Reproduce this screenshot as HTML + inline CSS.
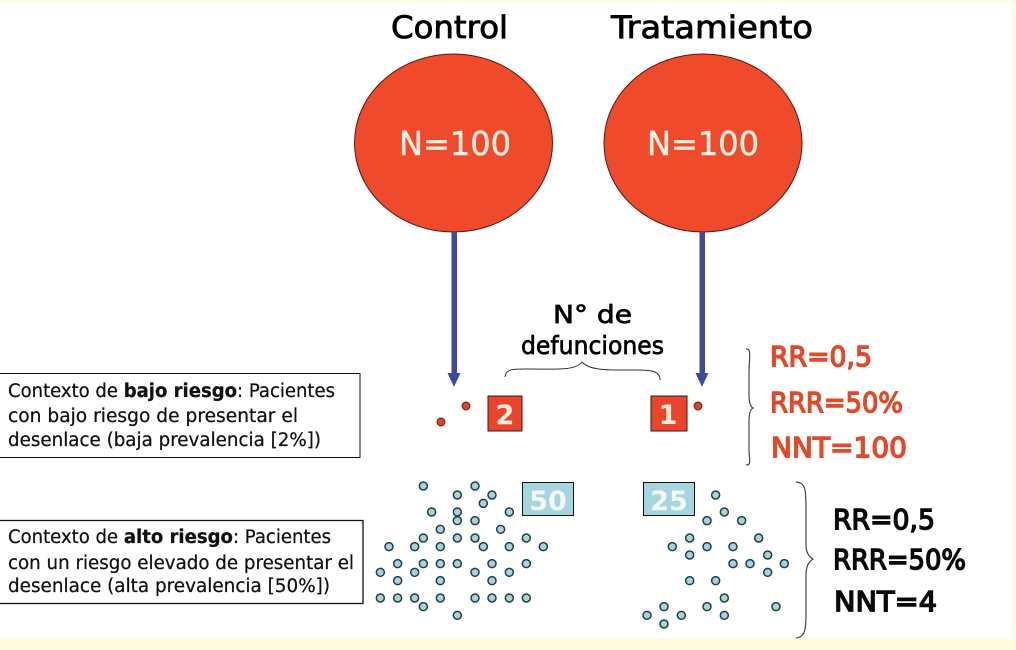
<!DOCTYPE html>
<html><head><meta charset="utf-8"><style>html,body{margin:0;padding:0;background:#fff}svg{display:block}text{font-family:"DejaVu Sans","Liberation Sans",sans-serif}</style></head><body>
<svg width="1016" height="650" viewBox="0 0 1016 650" xmlns="http://www.w3.org/2000/svg">
<rect width="1016" height="650" fill="#fff"/>
<rect x="0" y="639" width="1016" height="11" fill="#fffbdc"/>
<rect x="0" y="0" width="1016" height="1.500" fill="#fffbdc"/>
<rect x="1012" y="0" width="4" height="650" fill="#fffbdc"/>
<g stroke="#000" stroke-width=".8" fill="#000">
<text x="391" y="38" font-size="31" textLength="117" lengthAdjust="spacingAndGlyphs">Control</text>
<text x="611" y="38" font-size="31" textLength="202" lengthAdjust="spacingAndGlyphs">Tratamiento</text>
</g>
<ellipse cx="453.500" cy="143" rx="99" ry="89" fill="#ef4a2b" stroke="#5a1a10" stroke-width="1"/>
<ellipse cx="703" cy="143" rx="99" ry="89" fill="#ef4a2b" stroke="#5a1a10" stroke-width="1"/>
<g fill="#fdeee0" stroke="#fdeee0" stroke-width=".5">
<text x="399" y="155" font-size="33" textLength="112" lengthAdjust="spacingAndGlyphs">N=100</text>
<text x="647" y="155" font-size="33" textLength="112" lengthAdjust="spacingAndGlyphs">N=100</text>
</g>
<rect x="451.500" y="232" width="5.500" height="143" fill="#3f4a9e"/>
<path d="M447.500 373H460.500L454 387Z" fill="#3f4a9e"/>
<rect x="699.500" y="232" width="5.500" height="143" fill="#3f4a9e"/>
<path d="M695.500 373H708.500L702 387Z" fill="#3f4a9e"/>
<g stroke="#000" stroke-width=".7" fill="#000">
<text x="553" y="323" font-size="25" textLength="79" lengthAdjust="spacingAndGlyphs">N° de</text>
<text x="521" y="354" font-size="25" textLength="143" lengthAdjust="spacingAndGlyphs">defunciones</text>
</g>
<path d="M505 377C506 368 515 369 530 369C555 369 575 371 582 362C590 371 610 370 635 370C652 370 660 371 660 380" fill="none" stroke="#333" stroke-width="1"/>
<path d="M746 349C752 349 749 356 749 375V394C749 404 751 407 753 408C751 409 749 412 749 422V448C749 460 752 465 746 465" fill="none" stroke="#444" stroke-width="1.200"/>
<path d="M796 482C806 483 806 490 806 510V545C806 551 808 556 813 559C808 562 806 567 806 575V615C806 632 804 637 796 638" fill="none" stroke="#444" stroke-width="1.200"/>
<circle cx="466" cy="406" r="4" fill="#d8442c" stroke="#6a2018"/>
<circle cx="441" cy="422" r="4" fill="#d8442c" stroke="#6a2018"/>
<circle cx="698" cy="406" r="4" fill="#d8442c" stroke="#6a2018"/>
<rect x="488" y="396" width="34" height="35" fill="#e8452c" stroke="#3a1a10"/>
<rect x="651" y="396" width="36" height="35" fill="#e8452c" stroke="#3a1a10"/>
<text x="505" y="424" font-size="27" font-weight="bold" fill="#fdeee0" text-anchor="middle">2</text>
<text x="668" y="424" font-size="27" font-weight="bold" fill="#fdeee0" text-anchor="middle">1</text>
<rect x="522.500" y="482.500" width="51" height="33" fill="#a5d5df" stroke="#111"/>
<rect x="643.500" y="482.500" width="51" height="33" fill="#a5d5df" stroke="#111"/>
<text x="548" y="510" font-size="27" font-weight="bold" fill="#f4f8f4" text-anchor="middle">50</text>
<text x="669" y="510" font-size="27" font-weight="bold" fill="#f4f8f4" text-anchor="middle">25</text>
<g fill="#a9d3d6" stroke="#1f3f45" stroke-width="4.500">
<g transform="translate(360 470) scale(.3333)">
<circle cx="190" cy="48" r="12"/><circle cx="345" cy="48" r="12"/><circle cx="292" cy="75" r="12"/><circle cx="396" cy="75" r="12"/><circle cx="370" cy="100" r="12"/><circle cx="215" cy="126" r="12"/><circle cx="292" cy="126" r="12"/><circle cx="448" cy="126" r="12"/><circle cx="292" cy="152" r="12"/><circle cx="345" cy="152" r="12"/><circle cx="241" cy="178" r="12"/><circle cx="422" cy="178" r="12"/><circle cx="190" cy="204" r="12"/><circle cx="292" cy="204" r="12"/><circle cx="345" cy="204" r="12"/><circle cx="499" cy="204" r="12"/><circle cx="87" cy="230" r="12"/><circle cx="164" cy="230" r="12"/><circle cx="241" cy="230" r="12"/><circle cx="370" cy="230" r="12"/><circle cx="448" cy="230" r="12"/><circle cx="550" cy="230" r="12"/><circle cx="113" cy="281" r="12"/><circle cx="190" cy="281" r="12"/><circle cx="241" cy="281" r="12"/><circle cx="292" cy="281" r="12"/><circle cx="396" cy="281" r="12"/><circle cx="499" cy="281" r="12"/><circle cx="61" cy="307" r="12"/><circle cx="164" cy="307" r="12"/><circle cx="345" cy="307" r="12"/><circle cx="448" cy="307" r="12"/><circle cx="113" cy="332" r="12"/><circle cx="241" cy="332" r="12"/><circle cx="396" cy="332" r="12"/><circle cx="61" cy="384" r="12"/><circle cx="113" cy="384" r="12"/><circle cx="164" cy="384" r="12"/><circle cx="241" cy="384" r="12"/><circle cx="345" cy="384" r="12"/><circle cx="396" cy="384" r="12"/><circle cx="448" cy="384" r="12"/><circle cx="499" cy="384" r="12"/><circle cx="190" cy="410" r="12"/><circle cx="292" cy="436" r="12"/>
</g>
<g transform="translate(620 470) scale(.3333)">
<circle cx="287" cy="75" r="12"/><circle cx="313" cy="126" r="12"/><circle cx="261" cy="152" r="12"/><circle cx="365" cy="152" r="12"/><circle cx="209" cy="204" r="12"/><circle cx="416" cy="204" r="12"/><circle cx="157" cy="230" r="12"/><circle cx="261" cy="230" r="12"/><circle cx="339" cy="230" r="12"/><circle cx="209" cy="255" r="12"/><circle cx="443" cy="255" r="12"/><circle cx="339" cy="281" r="12"/><circle cx="390" cy="281" r="12"/><circle cx="493" cy="281" r="12"/><circle cx="443" cy="307" r="12"/><circle cx="209" cy="332" r="12"/><circle cx="287" cy="332" r="12"/><circle cx="313" cy="384" r="12"/><circle cx="132" cy="410" r="12"/><circle cx="261" cy="410" r="12"/><circle cx="468" cy="410" r="12"/><circle cx="81" cy="436" r="12"/><circle cx="184" cy="436" r="12"/><circle cx="313" cy="436" r="12"/><circle cx="132" cy="462" r="12"/>
</g>
</g>
<rect x="-2" y="373.500" width="362" height="84" fill="#fff" stroke="#111"/>
<rect x="-2" y="520.500" width="365" height="83" fill="#fff" stroke="#111" stroke-width="1.300"/>
<g font-size="18.500" fill="#111" stroke="#111" stroke-width=".25">
<text x="8" y="397" textLength="327" lengthAdjust="spacingAndGlyphs">Contexto de <tspan font-weight="bold">bajo riesgo</tspan>: Pacientes</text>
<text x="8" y="422" textLength="290" lengthAdjust="spacingAndGlyphs">con bajo riesgo de presentar el</text>
<text x="8" y="446" textLength="313" lengthAdjust="spacingAndGlyphs">desenlace (baja prevalencia [2%])</text>
<text x="8" y="543" textLength="323" lengthAdjust="spacingAndGlyphs">Contexto de <tspan font-weight="bold">alto riesgo</tspan>: Pacientes</text>
<text x="8" y="569" textLength="346" lengthAdjust="spacingAndGlyphs">con un riesgo elevado de presentar el</text>
<text x="8" y="592" textLength="322" lengthAdjust="spacingAndGlyphs">desenlace (alta prevalencia [50%])</text>
</g>
<g font-size="28" fill="#e04a2b" stroke="#e04a2b" stroke-width="1.400">
<text x="770" y="366" textLength="102" lengthAdjust="spacingAndGlyphs">RR=0,5</text>
<text x="770" y="412" textLength="133" lengthAdjust="spacingAndGlyphs">RRR=50%</text>
<text x="771" y="457" textLength="136" lengthAdjust="spacingAndGlyphs">NNT=100</text>
</g>
<g font-size="28" fill="#0a0a0a" stroke="#0a0a0a" stroke-width="1.400">
<text x="833" y="529" textLength="102" lengthAdjust="spacingAndGlyphs">RR=0,5</text>
<text x="833" y="569" textLength="133" lengthAdjust="spacingAndGlyphs">RRR=50%</text>
<text x="834" y="611" textLength="103" lengthAdjust="spacingAndGlyphs">NNT=4</text>
</g>
</svg>
</body></html>
